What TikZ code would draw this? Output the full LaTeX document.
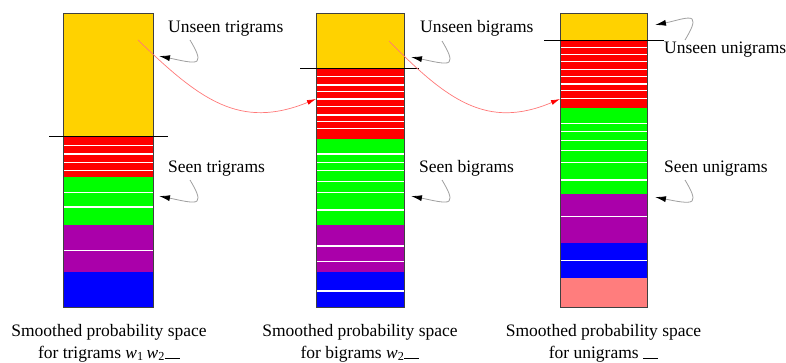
\documentclass[tikz,border=0pt]{standalone}
\usepackage{fontspec}
\setmainfont{Liberation Serif}
\usetikzlibrary{arrows.meta}
\definecolor{cyellow}{RGB}{255,210,0}
\definecolor{cred}{RGB}{255,0,0}
\definecolor{cgreen}{RGB}{0,255,0}
\definecolor{cpurple}{RGB}{170,0,170}
\definecolor{cblue}{RGB}{0,0,255}
\definecolor{csalmon}{RGB}{255,125,125}
\definecolor{cjump}{RGB}{255,120,120}
\begin{document}
\begin{tikzpicture}[x=1pt,y=-1pt,
  lbl/.style={anchor=base west,inner sep=0pt,font=\fontsize{17.5}{21}\selectfont},
  captxt/.style={anchor=north,align=center,inner sep=0pt,font=\fontsize{17.5}{22}\selectfont},
  callout/.style={draw=gray!75,line width=0.8pt,-{Latex[length=11pt,width=6pt,black]}},
  jump/.style={draw=cjump,line width=0.7pt,-{Latex[length=9pt,width=5pt,red]}},
  sepline/.style={line width=0.9pt},
  wl/.style={white,line width=1.1pt},
  colbox/.style={draw=black!75,line width=1pt}]
\useasboundingbox (0,0) rectangle (786,363);

% ---------- column 1 (trigrams)
\fill[cyellow] (63.5,14) rectangle (153,136);
\fill[cred] (63.5,136) rectangle (153,177);
\fill[cgreen] (63.5,177) rectangle (153,225);
\fill[cpurple] (63.5,225) rectangle (153,272.3);
\fill[cblue] (63.5,272.3) rectangle (153,307.3);
\foreach \y in {145.7,154,162.3,170.7,192.7,207,250.7}
  \draw[wl] (63.5,\y) -- (153,\y);
\draw[colbox] (63.5,14) rectangle (153,307.3);
\draw[sepline] (49,136) -- (168,136);

% ---------- column 2 (bigrams)
\fill[cyellow] (316,14) rectangle (404,68.3);
\fill[cred] (316,68.3) rectangle (404,139.3);
\fill[cgreen] (316,139.3) rectangle (404,225);
\fill[cpurple] (316,225) rectangle (404,272.3);
\fill[cblue] (316,272.3) rectangle (404,307.3);
\foreach \y in {76.7,85,91.7,99,106.7,115,121.7,128.3,154,162.3,170.7,181.7,192.7,210,246,261.7,291}
  \draw[wl] (316,\y) -- (404,\y);
\draw[colbox] (316,14) rectangle (404,307.3);
\draw[sepline] (300,68.3) -- (419,68.3);

% ---------- column 3 (unigrams)
\fill[cyellow] (560,14) rectangle (647.3,40);
\fill[cred] (560,40) rectangle (647.3,108.3);
\fill[cgreen] (560,108.3) rectangle (647.3,194);
\fill[cpurple] (560,194) rectangle (647.3,242.7);
\fill[cblue] (560,242.7) rectangle (647.3,278.3);
\fill[csalmon] (560,278.3) rectangle (647.3,307.3);
\foreach \y in {47.3,54.3,61.7,69.3,76.7,84,90.7,98.3,123.3,131.7,140.7,150.7,162.3,180,216.7,260.7}
  \draw[wl] (560,\y) -- (647.3,\y);
\draw[colbox] (560,14) rectangle (647.3,307.3);
\draw[sepline] (544,40) -- (664,40);

% ---------- labels
\node[lbl] (ut) at (168,33) {Unseen trigrams};
\node[lbl] (st) at (168,173) {Seen trigrams};
\node[lbl] (ub) at (420,33) {Unseen bigrams};
\node[lbl] (sb) at (419,173) {Seen bigrams};
\node[lbl] (uu) at (664,54) {Unseen unigrams};
\node[lbl] (su) at (664,173) {Seen unigrams};

% ---------- callout anchor points
\coordinate (ut-s) at (190,40);  \coordinate (ut-t) at (159,56);
\coordinate (st-s) at (190,180); \coordinate (st-t) at (159,196);
\coordinate (ub-s) at (442,41);  \coordinate (ub-t) at (411,57);
\coordinate (sb-s) at (442,180); \coordinate (sb-t) at (411,196);
\coordinate (su-s) at (685,180); \coordinate (su-t) at (655,197);
\coordinate (uu-s) at (685,40);  \coordinate (uu-t) at (655,25);

\foreach \n in {ut,st,ub,sb,su}
  \draw[callout] (\n-s) .. controls +(6,10) and +(3,-3) .. ++(7,21)
                        .. controls +(-3,3) and +(20,4) .. (\n-t);
\draw[callout] (uu-s) .. controls +(6,-10) and +(3,3) .. ++(7,-21)
                      .. controls +(-3,-3) and +(20,-4) .. (uu-t);

% ---------- red jump connectors
\coordinate (j1-s) at (138,40);  \coordinate (j1-t) at (316,99);
\coordinate (j2-s) at (389,41);  \coordinate (j2-t) at (560,99);
\draw[jump] (j1-s) .. controls (200,100) and (240,130) .. (j1-t);
\draw[jump] (j2-s) .. controls (447,100) and (487,130) .. (j2-t);

% ---------- captions
\node[captxt] (c1) at (109,324) {Smoothed probability space\\for trigrams \textit{w}\textsubscript{1}\,\textit{w}\textsubscript{2}\rule{15pt}{0.8pt}};
\node[captxt] (c2) at (360,324) {Smoothed probability space\\for bigrams \textit{w}\textsubscript{2}\rule{15pt}{0.8pt}};
\node[captxt] (c3) at (603.5,324) {Smoothed probability space\\for unigrams \rule{15pt}{0.8pt}};
\end{tikzpicture}
\end{document}
